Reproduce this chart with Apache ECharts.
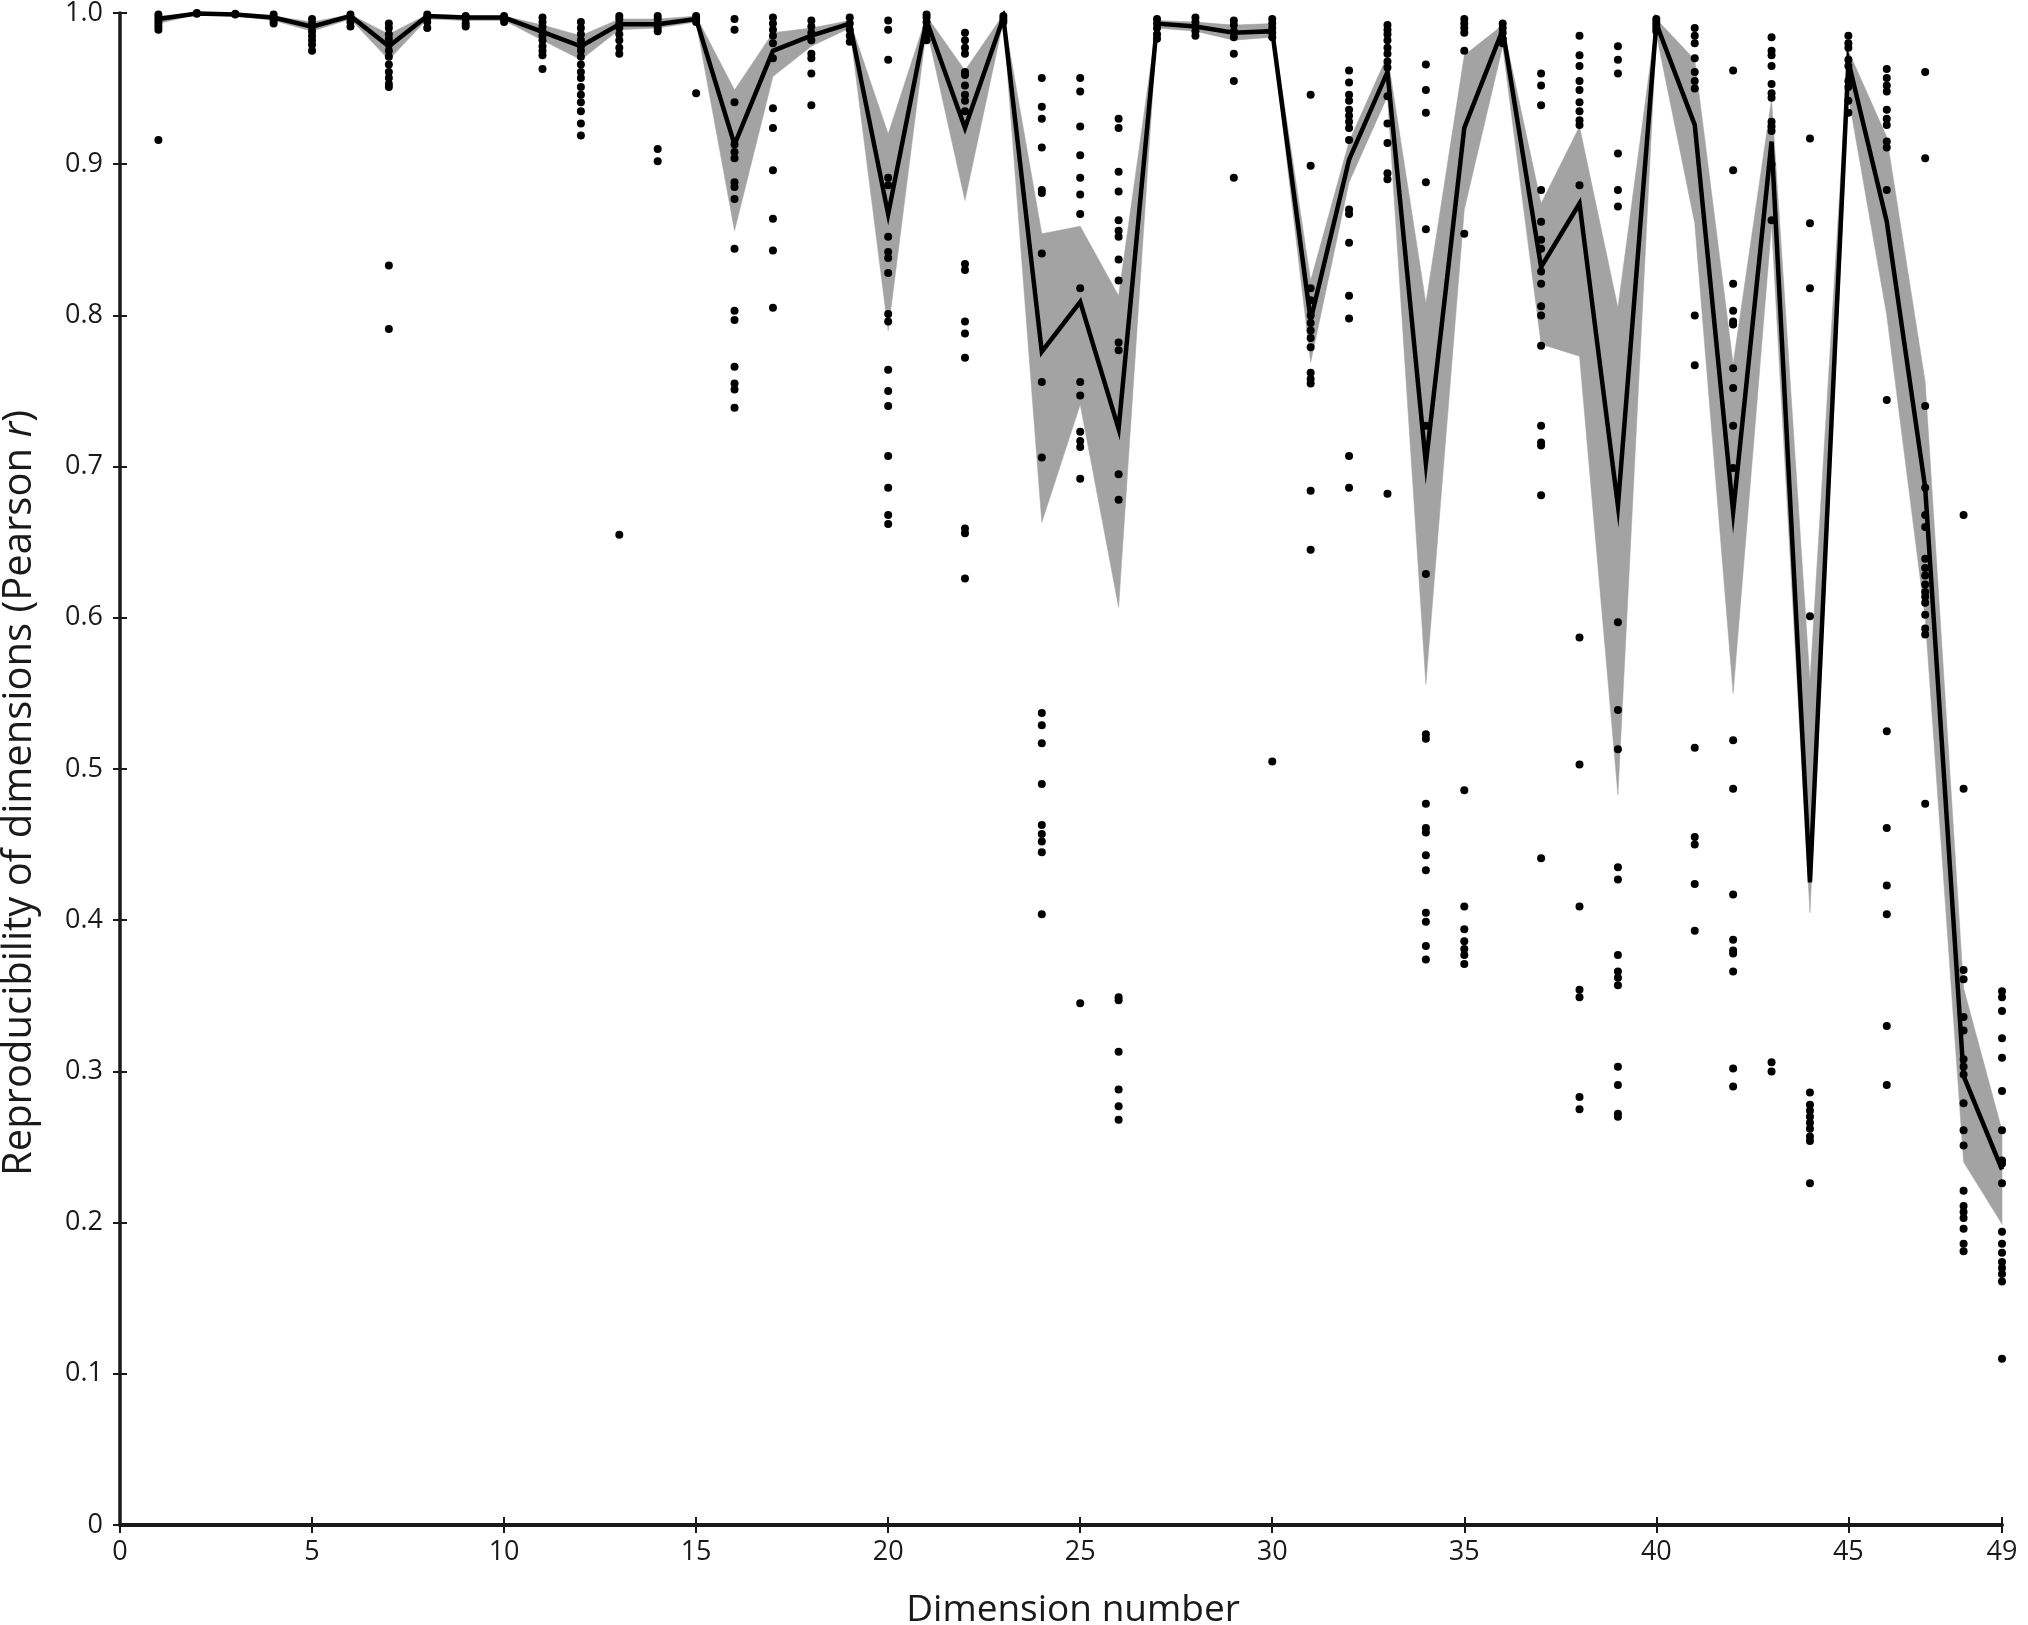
<!DOCTYPE html>
<html>
<head>
<meta charset="utf-8">
<title>Reproducibility of dimensions</title>
<script src="https://cdn.jsdelivr.net/npm/echarts@6/dist/echarts.min.js"></script>
<style>
  html, body { margin: 0; padding: 0; background: #fff; }
  #chart { width: 2028px; height: 1625px; }
</style>
</head>
<body>
<div id="chart"></div>
<script>
// dimension numbers
const dims = [1, 2, 3, 4, 5, 6, 7, 8, 9, 10, 11, 12, 13, 14, 15, 16, 17, 18, 19, 20,
  21, 22, 23, 24, 25, 26, 27, 28, 29, 30, 31, 32, 33, 34, 35, 36, 37, 38, 39, 40,
  41, 42, 43, 44, 45, 46, 47, 48, 49]

// mean reproducibility (black line)
const meanR = [0.996, 0.9996, 0.999, 0.997, 0.991, 0.998, 0.978, 0.998, 0.997, 0.997,
  0.9875, 0.978, 0.9925, 0.9925, 0.996, 0.913, 0.975, 0.985, 0.993, 0.867,
  0.995, 0.924, 0.997, 0.776, 0.809, 0.725, 0.993, 0.991, 0.987, 0.988,
  0.797, 0.903, 0.961, 0.702, 0.924, 0.989, 0.832, 0.874, 0.674, 0.993,
  0.926, 0.670, 0.915, 0.425, 0.968, 0.862, 0.686, 0.297, 0.235]

// grey band, upper and lower edge
const upperR = [0.998, 1.0, 1.0, 0.998, 0.994, 0.999, 0.986, 0.999, 0.998, 0.998,
  0.992, 0.985, 0.996, 0.996, 0.998, 0.949, 0.987, 0.990, 0.995, 0.920,
  0.998, 0.962, 0.999, 0.854, 0.859, 0.813, 0.995, 0.994, 0.992, 0.993,
  0.823, 0.915, 0.972, 0.808, 0.972, 0.992, 0.874, 0.925, 0.805, 0.996,
  0.969, 0.768, 0.943, 0.558, 0.975, 0.918, 0.756, 0.355, 0.261]
const lowerR = [0.993, 0.999, 0.998, 0.995, 0.988, 0.996, 0.969, 0.996, 0.995, 0.995,
  0.982, 0.969, 0.989, 0.990, 0.994, 0.856, 0.958, 0.978, 0.990, 0.790,
  0.990, 0.876, 0.995, 0.663, 0.741, 0.607, 0.990, 0.988, 0.982, 0.984,
  0.769, 0.888, 0.945, 0.556, 0.870, 0.978, 0.781, 0.773, 0.483, 0.986,
  0.861, 0.550, 0.860, 0.405, 0.945, 0.800, 0.600, 0.240, 0.199]

// individual runs, one list per dimension
const runs = [
  [0.999, 0.997, 0.995, 0.993, 0.991, 0.989, 0.916],
  [1.0, 0.9995],
  [0.9995, 0.999],
  [0.999, 0.997, 0.995, 0.993],
  [0.996, 0.993, 0.991, 0.988, 0.985, 0.982, 0.979, 0.975],
  [0.999, 0.997, 0.994, 0.991],
  [0.993, 0.99, 0.986, 0.983, 0.979, 0.975, 0.971, 0.966, 0.961, 0.957, 0.953, 0.951, 0.833, 0.791],
  [0.999, 0.997, 0.994, 0.99],
  [0.998, 0.996, 0.993, 0.991],
  [0.998, 0.996, 0.994],
  [0.997, 0.994, 0.991, 0.988, 0.985, 0.982, 0.978, 0.975, 0.972, 0.963],
  [0.994, 0.99, 0.986, 0.982, 0.978, 0.975, 0.971, 0.966, 0.961, 0.957, 0.951, 0.946, 0.941, 0.935, 0.927, 0.919],
  [0.998, 0.996, 0.993, 0.99, 0.986, 0.982, 0.977, 0.973, 0.655],
  [0.998, 0.996, 0.993, 0.99, 0.988, 0.91, 0.902],
  [0.998, 0.996, 0.994, 0.947],
  [0.996, 0.989, 0.941, 0.913, 0.908, 0.904, 0.888, 0.885, 0.877, 0.844, 0.803, 0.797, 0.766, 0.755, 0.751, 0.739],
  [0.997, 0.993, 0.989, 0.985, 0.98, 0.97, 0.937, 0.924, 0.896, 0.864, 0.843, 0.805],
  [0.995, 0.991, 0.987, 0.982, 0.973, 0.97, 0.96, 0.939],
  [0.997, 0.993, 0.989, 0.985, 0.981],
  [0.995, 0.989, 0.969, 0.891, 0.886, 0.852, 0.842, 0.838, 0.828, 0.801, 0.796, 0.764, 0.75, 0.74, 0.707, 0.686, 0.668, 0.662],
  [0.999, 0.997, 0.994, 0.99, 0.986, 0.982],
  [0.987, 0.982, 0.977, 0.973, 0.961, 0.959, 0.952, 0.946, 0.942, 0.935, 0.834, 0.83, 0.796, 0.788, 0.772, 0.659, 0.656, 0.626],
  [0.998, 0.996, 0.994],
  [0.957, 0.938, 0.93, 0.911, 0.883, 0.881, 0.841, 0.756, 0.706, 0.537, 0.529, 0.517, 0.49, 0.463, 0.457, 0.452, 0.445, 0.404],
  [0.957, 0.948, 0.925, 0.906, 0.891, 0.88, 0.867, 0.818, 0.756, 0.747, 0.723, 0.717, 0.713, 0.692, 0.345],
  [0.93, 0.924, 0.895, 0.882, 0.863, 0.856, 0.852, 0.837, 0.823, 0.782, 0.777, 0.695, 0.678, 0.349, 0.347, 0.313, 0.288, 0.277, 0.268],
  [0.996, 0.993, 0.99, 0.986, 0.983],
  [0.997, 0.994, 0.991, 0.988, 0.985],
  [0.995, 0.992, 0.988, 0.984, 0.973, 0.955, 0.891],
  [0.996, 0.993, 0.99, 0.987, 0.984, 0.505],
  [0.946, 0.899, 0.818, 0.81, 0.8, 0.795, 0.79, 0.785, 0.779, 0.762, 0.758, 0.755, 0.684, 0.645],
  [0.962, 0.954, 0.946, 0.942, 0.936, 0.932, 0.928, 0.924, 0.916, 0.87, 0.867, 0.848, 0.813, 0.798, 0.707, 0.686],
  [0.992, 0.989, 0.986, 0.982, 0.977, 0.973, 0.968, 0.964, 0.945, 0.927, 0.914, 0.894, 0.89, 0.682],
  [0.966, 0.949, 0.934, 0.888, 0.857, 0.727, 0.629, 0.523, 0.52, 0.477, 0.461, 0.458, 0.443, 0.433, 0.405, 0.399, 0.383, 0.374],
  [0.996, 0.993, 0.99, 0.987, 0.975, 0.854, 0.486, 0.409, 0.394, 0.386, 0.381, 0.377, 0.371],
  [0.993, 0.99, 0.987, 0.983, 0.98],
  [0.96, 0.952, 0.939, 0.883, 0.862, 0.85, 0.844, 0.829, 0.821, 0.806, 0.8, 0.78, 0.727, 0.716, 0.714, 0.681, 0.441],
  [0.985, 0.972, 0.965, 0.955, 0.949, 0.941, 0.935, 0.929, 0.926, 0.886, 0.587, 0.503, 0.409, 0.354, 0.349, 0.283, 0.275],
  [0.978, 0.969, 0.96, 0.907, 0.883, 0.872, 0.597, 0.539, 0.513, 0.435, 0.427, 0.377, 0.366, 0.362, 0.357, 0.303, 0.291, 0.272, 0.27],
  [0.996, 0.994, 0.992, 0.99, 0.988],
  [0.99, 0.985, 0.98, 0.97, 0.961, 0.955, 0.95, 0.8, 0.767, 0.514, 0.455, 0.45, 0.424, 0.393],
  [0.962, 0.896, 0.821, 0.803, 0.796, 0.794, 0.765, 0.752, 0.727, 0.699, 0.519, 0.487, 0.417, 0.387, 0.38, 0.378, 0.366, 0.302, 0.29],
  [0.984, 0.975, 0.972, 0.965, 0.953, 0.947, 0.944, 0.928, 0.925, 0.922, 0.9, 0.863, 0.306, 0.3],
  [0.917, 0.861, 0.818, 0.601, 0.286, 0.278, 0.274, 0.27, 0.266, 0.262, 0.257, 0.254, 0.226],
  [0.985, 0.98, 0.977, 0.969, 0.965, 0.955, 0.951, 0.942, 0.934],
  [0.963, 0.957, 0.952, 0.948, 0.936, 0.93, 0.926, 0.915, 0.911, 0.883, 0.744, 0.525, 0.461, 0.423, 0.404, 0.33, 0.291],
  [0.961, 0.904, 0.74, 0.686, 0.668, 0.66, 0.639, 0.633, 0.628, 0.622, 0.617, 0.614, 0.61, 0.602, 0.593, 0.589, 0.477],
  [0.668, 0.487, 0.367, 0.361, 0.336, 0.327, 0.308, 0.303, 0.298, 0.279, 0.261, 0.251, 0.221, 0.211, 0.207, 0.203, 0.196, 0.186, 0.181],
  [0.353, 0.349, 0.34, 0.322, 0.309, 0.287, 0.261, 0.241, 0.239, 0.226, 0.194, 0.186, 0.18, 0.174, 0.17, 0.166, 0.161, 0.11]
]

// x axis tick labels
const xTicks = [0, 5, 10, 15, 20, 25, 30, 35, 40, 45, 49]

const FONT = "'Open Sans', 'Noto Sans', sans-serif"
const INK = '#1a1a1a'
const BAND = '#a3a3a3'

let chart = echarts.init(document.getElementById('chart'), null, { renderer: 'canvas' })

const meanPts = dims.map((d, i) => [d, meanR[i]])
let dots = []
runs.forEach((list, i) => {
  list.forEach(v => dots.push([dims[i], v]))
})

// grey band as one polygon: upper edge left to right, lower edge back
function renderBand(params, api) {
  let pts = []
  dims.forEach((d, i) => pts.push(api.coord([d, upperR[i]])))
  for (let i = dims.length - 1; i >= 0; i--) {
    pts.push(api.coord([dims[i], lowerR[i]]))
  }
  return {
    type: 'polygon',
    shape: { points: pts },
    style: { fill: BAND, stroke: BAND, lineWidth: 0.5 },
    silent: true
  }
}

const baseX = {
  type: 'value',
  min: 0,
  max: 49,
  splitLine: { show: false }
}
const baseY = {
  type: 'value',
  min: 0,
  max: 1,
  interval: 0.1,
  splitLine: { show: false }
}

const option = {
  animation: false,
  backgroundColor: '#fff',
  grid: {
    left: 120,
    right: 26,
    top: 13,
    bottom: 100,
    containLabel: false,
    outerBoundsMode: 'none'
  },
  xAxis: [
    {
      ...baseX,
      axisLine: { onZero: false, lineStyle: { color: INK, width: 4 } },
      axisTick: { show: true, customValues: xTicks, length: 8, lineStyle: { color: INK, width: 2 } },
      axisLabel: {
        customValues: xTicks,
        margin: 14,
        fontFamily: FONT,
        fontSize: 27,
        color: INK
      }
    },
    {
      // inner half of the crossing ticks
      ...baseX,
      position: 'bottom',
      axisLine: { show: false },
      axisTick: { show: true, inside: true, customValues: xTicks, length: 8, lineStyle: { color: INK, width: 2 } },
      axisLabel: { show: false }
    }
  ],
  yAxis: [
    {
      ...baseY,
      axisLine: { onZero: false, lineStyle: { color: INK, width: 3.5 } },
      axisTick: { show: true, length: 7, lineStyle: { color: INK, width: 2 } },
      axisLabel: {
        margin: 17,
        fontFamily: FONT,
        fontSize: 27,
        color: INK,
        formatter: v => (v === 0 ? '0' : v.toFixed(1))
      }
    },
    {
      ...baseY,
      position: 'left',
      offset: 0,
      axisLine: { show: false },
      axisTick: { show: true, inside: true, length: 7, lineStyle: { color: INK, width: 2 } },
      axisLabel: { show: false }
    }
  ],
  graphic: [
    {
      type: 'text',
      x: 1073,
      y: 1610,
      style: {
        text: 'Dimension number',
        font: "37px " + FONT,
        fill: INK,
        textAlign: 'center',
        textVerticalAlign: 'middle'
      }
    },
    {
      type: 'text',
      x: 20,
      y: 793,
      rotation: Math.PI / 2,
      style: {
        text: '{n|Reproducibility of dimensions (Pearson }{i|r}{n|)}',
        fill: INK,
        textAlign: 'center',
        textVerticalAlign: 'middle',
        rich: {
          n: { fontFamily: FONT, fontSize: 40, fill: INK },
          i: { fontFamily: FONT, fontSize: 40, fontStyle: 'italic', fill: INK }
        }
      }
    }
  ],
  series: [
    {
      name: 'band',
      type: 'custom',
      data: [0],
      renderItem: renderBand,
      silent: true,
      z: 1
    },
    {
      name: 'mean',
      type: 'line',
      data: meanPts,
      symbol: 'none',
      lineStyle: { color: '#000', width: 4.5, join: 'miter' },
      z: 3
    },
    {
      name: 'runs',
      type: 'scatter',
      data: dots,
      symbol: 'circle',
      symbolSize: 8,
      itemStyle: { color: '#000', opacity: 1 },
      z: 4
    }
  ]
}

chart.setOption(option)
</script>
</body>
</html>
